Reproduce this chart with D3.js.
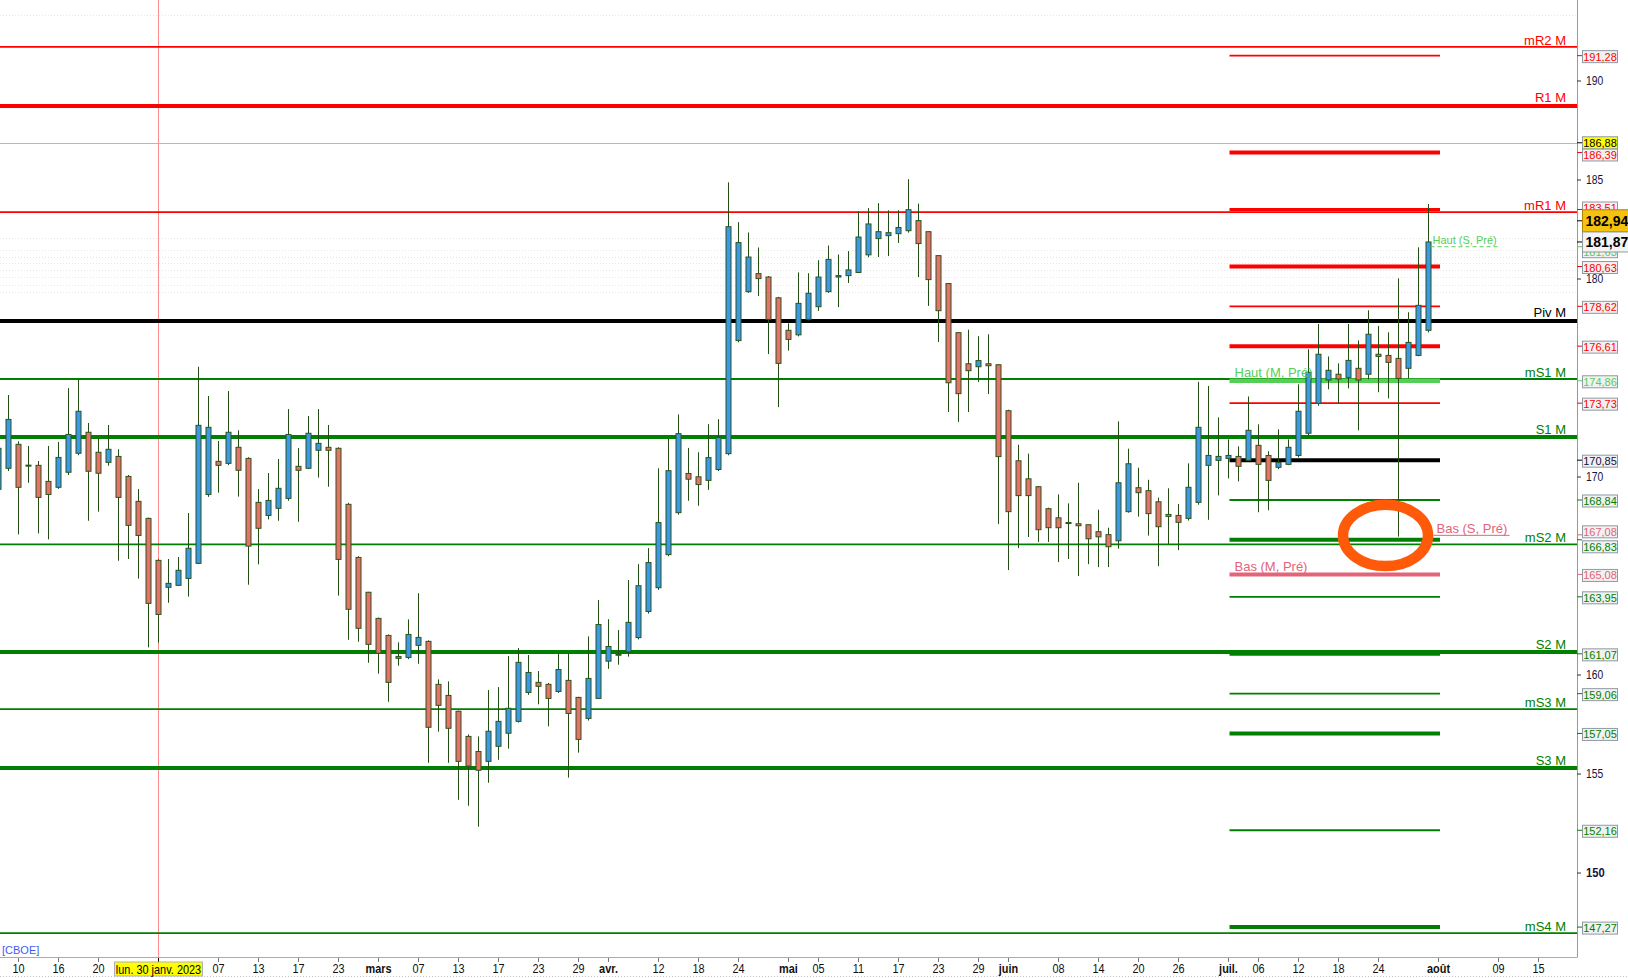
<!DOCTYPE html>
<html><head><meta charset="utf-8">
<script src="https://cdn.jsdelivr.net/npm/d3@7"></script>
<style>body{margin:0;background:#fff;} svg{display:block;font-family:"Liberation Sans",Arial,sans-serif;}</style>
</head><body><svg id="c" width="1628" height="978"></svg>
<script>
// ---------- DATA ----------
const monthDays = [
  ["01",[6,9,10,11,12,13,16,17,18,19,20,23,24,25,26,27,30,31]],
  ["02",[1,2,3,6,7,8,9,10,13,14,15,16,17,20,21,22,23,24,27,28]],
  ["03",[1,2,3,6,7,8,9,10,13,14,15,16,17,20,21,22,23,24,27,28,29,30,31]],
  ["04",[3,4,5,6,11,12,13,14,17,18,19,20,21,24,25,26,27,28]],
  ["05",[2,3,4,5,8,9,10,11,12,15,16,17,18,19,22,23,24,25,26,29,30,31]],
  ["06",[1,2,5,6,7,8,9,12,13,14,15,16,19,20,21,22,23,26,27,28,29,30]],
  ["07",[3,4,5,6,7,10,11,12,13,14,17,18,19,20,21,24,25,26,27,28,31]],
  ["08",[1,2,3,4,7,8,9,10,11,14,15,16,17,18]]
];
const tradingDays = monthDays.flatMap(([m, ds]) => ds.map(d => `2023-${m}-${String(d).padStart(2, "0")}`));

const open = [169.38,170.44,171.65,170.55,170.59,169.78,169.48,170.24,171.2,172.26,171.25,170.74,171.04,170.03,168.77,167.91,165.79,164.43,
 164.53,164.88,165.64,169.12,170.79,170.69,171.5,170.94,168.72,168.06,168.42,168.92,170.54,170.44,171.35,171.5,171.45,168.62,165.94,164.18,
 162.86,162.0,160.84,160.89,161.5,161.7,159.53,158.97,158.17,156.9,156.14,155.64,156.4,157.06,157.66,159.12,159.63,159.53,159.17,159.73,158.87,157.81,158.82,
 160.70,161.0,161.17,161.89,163.21,164.41,166.08,168.2,170.18,170.01,169.83,170.38,171.18,176.89,179.36,180.27,180.10,179.05,
 177.41,177.18,177.96,178.60,179.36,180.1,180.17,180.33,181.22,182.04,182.19,182.29,182.44,182.95,182.39,181.18,179.77,177.29,175.72,175.57,175.72,175.67,
 173.35,170.82,169.91,169.51,168.4,167.94,167.7,167.64,167.59,167.24,167.09,166.78,168.25,169.46,169.31,168.75,168.11,168.06,167.91,168.72,170.59,170.84,
 170.94,171.04,170.84,171.6,171.09,170.49,170.64,171.09,172.21,173.72,174.9,175.19,175.03,175.49,175.19,176.2,176.14,175.99,175.49,176.14,177.41];
const high = [172.2,174.14,171.8,171.57,170.81,171.57,171.77,174.49,174.93,172.73,171.95,172.63,171.4,170.1,169.39,167.95,165.85,165.86,
 165.96,168.18,175.57,174.09,171.82,174.34,172.36,171.0,169.39,170.20,170.91,173.43,171.46,173.08,173.43,172.63,171.5,168.7,166.0,164.2,
 162.9,162.05,161.65,162.81,164.13,161.75,159.78,159.68,158.2,157.0,156.9,159.24,159.39,160.96,161.36,161.01,160.2,159.6,161.09,161.09,158.9,161.95,163.79,
 162.82,162.27,164.80,165.6,166.41,170.44,171.93,173.16,171.47,171.25,172.67,172.92,184.88,182.87,182.35,181.59,180.15,179.1,
 177.76,180.33,180.29,180.95,181.69,181.24,181.41,183.42,183.58,183.83,183.47,183.47,185.04,183.81,182.4,181.2,179.8,177.3,177.44,177.11,177.21,175.7,
 173.4,171.63,171.18,169.55,168.45,169.12,168.67,169.71,167.6,168.35,167.44,172.81,171.43,170.47,169.86,168.96,169.43,168.64,170.69,174.81,174.60,173.01,
 171.9,171.55,174.07,172.66,171.3,172.41,171.9,174.68,176.45,177.73,176.09,175.74,177.73,176.9,178.42,177.63,177.31,180.03,178.32,181.6,183.79];
const low = [168.9,170.3,167.10,169.71,167.15,166.85,169.4,170.1,171.1,167.79,168.25,170.57,165.77,165.86,164.87,161.40,161.63,163.65,
 164.5,163.96,165.6,169.0,169.21,170.6,169.01,164.56,165.59,167.86,167.79,168.8,167.74,170.4,169.97,169.51,164.01,161.78,161.68,160.62,
 160.07,158.65,160.47,160.8,160.57,155.57,157.14,155.57,153.7,153.4,152.34,154.56,155.72,156.28,157.6,159.0,158.52,157.41,159.1,154.82,156.08,157.7,158.8,
 160.31,160.52,160.93,161.8,163.1,164.3,166.0,168.1,168.8,168.55,169.35,170.3,171.1,176.8,179.3,179.14,176.21,173.53,
 176.38,177.1,177.9,178.39,179.3,178.58,179.80,180.3,181.1,181.11,181.16,181.82,182.34,180.10,178.64,176.82,173.28,172.78,173.28,174.80,174.19,167.62,
 165.30,166.41,166.97,166.72,166.72,165.70,165.86,165.0,165.6,165.45,165.45,166.38,168.2,168.0,167.04,165.5,166.62,166.31,167.8,168.6,167.84,169.07,
 169.93,169.78,170.8,168.22,168.32,170.4,170.6,170.99,172.1,173.6,174.43,173.72,174.48,172.36,174.93,174.28,173.97,166.99,174.98,176.1,177.3];
const close = [171.45,172.91,169.48,170.6,168.97,169.12,170.99,172.15,173.32,170.29,170.19,171.40,168.97,167.56,167.05,163.62,163.06,164.63,
 165.29,166.40,172.61,172.51,170.59,172.26,170.34,166.51,167.41,168.82,169.43,172.15,170.34,172.21,171.70,171.35,165.84,163.32,162.36,161.55,
 161.1,159.63,160.94,162.05,161.9,157.36,158.47,157.31,155.64,155.4,155.19,157.16,157.66,158.32,160.64,160.13,159.43,158.82,160.28,158.06,156.75,159.83,162.55,
 161.44,161.05,162.66,164.51,165.68,167.70,170.32,172.19,169.89,169.62,170.98,171.99,182.64,181.84,181.11,180.02,177.96,175.74,
 176.95,178.77,179.28,180.10,180.99,180.17,180.46,182.12,182.78,182.39,182.34,182.6,183.5,181.79,179.97,178.40,174.76,174.21,175.37,175.88,175.62,171.03,
 168.25,169.06,169.06,167.34,167.44,167.44,167.67,167.54,166.88,166.98,166.48,169.71,170.67,169.21,168.15,167.49,168.01,167.71,169.48,172.51,171.09,171.04,
 171.09,170.54,172.36,170.64,169.83,170.74,171.50,173.32,175.29,176.2,175.39,174.95,175.89,174.9,177.21,176.09,175.79,174.98,176.80,178.67,181.87];

const monthlyNames  = ["mR2 M","R1 M","mR1 M","Piv M","mS1 M","S1 M","mS2 M","S2 M","mS3 M","S3 M","mS4 M"];
const monthlyValues = [191.72,188.74,183.38,177.88,174.95,172.02,166.60,161.16,158.28,155.30,146.97];

const weeklyNames  = ["mR4","R3","mR3","R2","mR2","R1","mR1","P","mS1","S1","mS2","S2","mS3","S3","mS4","S4"];
const weeklyValues = [191.28,186.39,183.51,180.63,178.62,176.61,173.73,170.85,168.84,166.83,163.95,161.07,159.06,157.05,152.16,147.27];

const prevNames  = ["Haut (M, Pré)","Bas (M, Pré)","Haut (S, Pré)","Bas (S, Pré)"];
const prevValues = [174.86,165.08,181.63,167.08];

const faintLevels = [193.33,182.07,181.46,181.11,180.81,180.45,180.10,179.70,179.34];
const yTicks = [190,185,180,170,160,155,150];
const lastPrice = 181.87, quotePrice = 182.94, crossPrice = 186.88;
const crossDate = "2023-01-30", crossDateLabel = "lun. 30 janv. 2023";

const xLabels = [["2023-01-10","10"],["2023-01-16","16"],["2023-01-20","20"],["2023-02-07","07"],["2023-02-13","13"],
 ["2023-02-17","17"],["2023-02-23","23"],["2023-03-01","mars"],["2023-03-07","07"],["2023-03-13","13"],["2023-03-17","17"],
 ["2023-03-23","23"],["2023-03-29","29"],["2023-04-03","avr."],["2023-04-12","12"],["2023-04-18","18"],["2023-04-24","24"],
 ["2023-05-02","mai"],["2023-05-05","05"],["2023-05-11","11"],["2023-05-17","17"],["2023-05-23","23"],["2023-05-29","29"],
 ["2023-06-01","juin"],["2023-06-08","08"],["2023-06-14","14"],["2023-06-20","20"],["2023-06-26","26"],["2023-07-03","juil."],
 ["2023-07-06","06"],["2023-07-12","12"],["2023-07-18","18"],["2023-07-24","24"],["2023-08-01","août"],["2023-08-09","09"],["2023-08-15","15"]];
const weeklyStart = "2023-07-03", weeklyEnd = "2023-08-01";
const markCenter = {date:"2023-07-24", dayOffset:0.7, value:167.05, rxDays:4.25, ryValue:1.55};

// ---------- LAYOUT ----------
const W = 1628, H = 978, plotR = 1577, plotB = 957;
const svg = d3.select("#c");
const idx = d => tradingDays.indexOf(d);
const x = d3.scaleLinear().domain([0, 1]).range([-1.5, 8.5]);
const y = d3.scaleLinear().domain([145.76, 194.09]).range([plotB, 0]);
const RED = "#ff0000", GREEN = "#008000", BLACK = "#000000", LGREEN = "#55cf55", PINK = "#e2637a";
const colorOf = n => /R\d/.test(n) ? RED : (/^(P|Piv)/.test(n) ? BLACK : GREEN);
const widthOf = n => n.startsWith("m") ? 1.8 : 4;
const fmt = v => d3.format(".2f")(v).replace(".", ",");

svg.append("defs").append("clipPath").attr("id","pc").append("rect").attr("x",0).attr("y",0).attr("width",plotR).attr("height",plotB);
const plot = svg.append("g").attr("clip-path","url(#pc)");

// faint dotted levels
plot.selectAll(".faint").data(faintLevels).join("line")
  .attr("x1",0).attr("x2",plotR).attr("y1",d=>Math.round(y(d))+0.5).attr("y2",d=>Math.round(y(d))+0.5)
  .attr("stroke","#e6e6e6").attr("stroke-dasharray","1,2");

// crosshair
plot.append("line").attr("x1",0).attr("x2",plotR).attr("y1",Math.round(y(crossPrice))+0.5).attr("y2",Math.round(y(crossPrice))+0.5)
  .attr("stroke","#ff9a9a").attr("stroke-width",1);
plot.append("line").attr("x1",x(idx(crossDate))).attr("x2",x(idx(crossDate))).attr("y1",0).attr("y2",plotB)
  .attr("stroke","#ff8c8c").attr("stroke-width",1);

// monthly full-width levels
plot.selectAll(".mlev").data(monthlyNames).join("line")
  .attr("x1",0).attr("x2",plotR).attr("y1",(d,i)=>y(monthlyValues[i])).attr("y2",(d,i)=>y(monthlyValues[i]))
  .attr("stroke",d=>colorOf(d)).attr("stroke-width",d=>widthOf(d));

// weekly short levels
const wx1 = x(idx(weeklyStart)) + 1, wx2 = x(idx(weeklyEnd)) + 1.5;
plot.selectAll(".wlev").data(weeklyNames).join("line")
  .attr("x1",wx1).attr("x2",wx2).attr("y1",(d,i)=>y(weeklyValues[i])).attr("y2",(d,i)=>y(weeklyValues[i]))
  .attr("stroke",d=>colorOf(d)).attr("stroke-width",d=>widthOf(d)===4?4:(d==="mR3"?3:1.8));
plot.append("line").attr("x1",wx1).attr("x2",wx2).attr("y1",y(prevValues[0])).attr("y2",y(prevValues[0]))
  .attr("stroke",LGREEN).attr("stroke-width",4.5);
plot.append("line").attr("x1",wx1).attr("x2",wx2).attr("y1",y(prevValues[1])).attr("y2",y(prevValues[1]))
  .attr("stroke",PINK).attr("stroke-width",4);

// candles
const candles = tradingDays.slice(0, close.length).map((d,i)=>({d,i,o:open[i],h:high[i],l:low[i],c:close[i]}));
const cg = plot.append("g");
cg.selectAll(".wick").data(candles).join("line")
  .attr("x1",d=>x(d.i)).attr("x2",d=>x(d.i)).attr("y1",d=>y(d.h)).attr("y2",d=>y(d.l))
  .attr("stroke","#234d12").attr("stroke-width",1);
cg.selectAll(".body").data(candles).join("rect")
  .attr("x",d=>x(d.i)-2.5).attr("width",5)
  .attr("y",d=>y(Math.max(d.o,d.c))).attr("height",d=>Math.max(1,Math.abs(y(d.o)-y(d.c))))
  .attr("fill",d=>d.c>=d.o?"#3a99ea":"#e8716b").attr("stroke","#2b5519").attr("stroke-width",1);

// hand-drawn annotation ring
const mcx = x(idx(markCenter.date)+markCenter.dayOffset), mcy = y(markCenter.value);
plot.append("ellipse").attr("cx",mcx).attr("cy",mcy)
  .attr("rx",x(markCenter.rxDays)-x(0)).attr("ry",y(markCenter.value-markCenter.ryValue)-mcy)
  .attr("fill","none").attr("stroke","#ff5a0a").attr("stroke-width",10.5);

// previous-period labels
const lastX = x(close.length-1);
plot.append("line").attr("x1",lastX+2).attr("x2",lastX+69).attr("y1",y(prevValues[2])).attr("y2",y(prevValues[2]))
  .attr("stroke",LGREEN).attr("stroke-width",1).attr("stroke-dasharray","4,3");
plot.append("text").attr("x",lastX+4).attr("y",y(prevValues[2])-3).attr("font-size",11).attr("fill",LGREEN).text(prevNames[2]);
plot.append("line").attr("x1",lastX+5).attr("x2",lastX+81).attr("y1",y(prevValues[3])+0.5).attr("y2",y(prevValues[3])+0.5)
  .attr("stroke",PINK).attr("stroke-width",1);
plot.append("text").attr("x",lastX+8).attr("y",y(prevValues[3])-2).attr("font-size",13).attr("fill",PINK).text(prevNames[3]);
plot.append("text").attr("x",wx1+5).attr("y",y(prevValues[0])-3.5).attr("font-size",13).attr("fill",LGREEN).text(prevNames[0]);
plot.append("text").attr("x",wx1+5).attr("y",y(prevValues[1])-3).attr("font-size",13).attr("fill",PINK).text(prevNames[1]);

// monthly labels
plot.selectAll(".mlab").data(monthlyNames).join("text")
  .attr("x",1566).attr("y",(d,i)=>y(monthlyValues[i]) - widthOf(d)/2 - 1.5)
  .attr("text-anchor","end").attr("font-size",13).attr("fill",d=>colorOf(d)).text(d=>d);

// ---------- AXES ----------
svg.append("line").attr("x1",0).attr("x2",plotR).attr("y1",plotB+0.5).attr("y2",plotB+0.5).attr("stroke","#a3aeb6");
svg.append("line").attr("x1",plotR+0.5).attr("x2",plotR+0.5).attr("y1",0).attr("y2",plotB+0.5).attr("stroke","#8d9ca8");
svg.append("line").attr("x1",0).attr("x2",W).attr("y1",976.5).attr("y2",976.5).attr("stroke","#c4c4c4").attr("stroke-dasharray","1,2");

svg.append("text").attr("x",2).attr("y",954).attr("font-size",11).attr("fill","#3f5cf0").text("[CBOE]");

// x labels
const xg = svg.append("g");
xLabels.forEach(([d,t])=>{
  const px = x(idx(d));
  xg.append("line").attr("x1",px).attr("x2",px).attr("y1",plotB+1).attr("y2",plotB+5).attr("stroke","#777");
  const bold = isNaN(+t);
  xg.append("text").attr("transform",`translate(${px},${973}) scale(0.84,1)`).attr("text-anchor","middle")
    .attr("font-size",13).attr("font-weight",bold?"bold":"normal").attr("fill","#111").text(t);
});
{ const px = x(idx(crossDate));
  xg.append("line").attr("x1",px).attr("x2",px).attr("y1",plotB+1).attr("y2",plotB+5).attr("stroke","#000");
  xg.append("rect").attr("x",px-44).attr("y",962).attr("width",88).attr("height",14).attr("fill","#ffff00").attr("stroke","#b0b0b0");
  xg.append("text").attr("transform",`translate(${px},${973.5}) scale(0.84,1)`).attr("text-anchor","middle")
    .attr("font-size",13).attr("fill","#000").text(crossDateLabel); }

// y plain ticks
const yg = svg.append("g");
yTicks.forEach(v=>{
  const py = y(v);
  yg.append("line").attr("x1",plotR).attr("x2",plotR+4).attr("y1",py).attr("y2",py).attr("stroke","#333");
  yg.append("text").attr("transform",`translate(${plotR+9},${py+4}) scale(0.86,1)`)
    .attr("font-size",v===150?13:12).attr("font-weight",v===150?"bold":"normal").attr("fill","#14143c").text(v);
});

// value boxes (shift = label offset in px to avoid collisions, as in the reference)
function box(v, color, opts={}){
  const py = y(v), by = py + (opts.shift||0) + 1;
  const h = opts.h||12, w = opts.w||35;
  yg.append("line").attr("x1",plotR).attr("x2",plotR+5).attr("y1",py).attr("y2",py).attr("stroke",opts.tick||color);
  yg.append("rect").attr("x",1582.5).attr("y",by-h/2).attr("width",w).attr("height",h)
    .attr("fill",opts.fill||"#f1f1f1").attr("stroke",opts.stroke||"#8e9aa3");
  yg.append("text").attr("x",1582.5+ (opts.tx||w/2)).attr("y",by+(opts.dy||4)).attr("text-anchor",opts.anchor||"middle")
    .attr("font-size",opts.fs||11).attr("font-weight",opts.fw||"normal").attr("fill",opts.text||color).text(fmt(v));
}
const shiftOf = {"mR3":-2.5, "S1":6, "R3":1.5};
box(prevValues[2], LGREEN, {shift:4});
box(prevValues[3], PINK, {shift:-4});
weeklyNames.forEach((n,i)=>box(weeklyValues[i], colorOf(n)===BLACK?"#101040":colorOf(n), {tick:colorOf(n), shift:shiftOf[n]||0}));
box(prevValues[0], LGREEN);
box(prevValues[1], PINK);
box(crossPrice, "#000", {fill:"#ffff00", stroke:"#8e9aa3", tick:"#000", shift:-1});
box(quotePrice, "#000", {fill:"#f5c20f", stroke:"#b08000", h:22, w:50, fs:14, fw:"bold", dy:5, tx:3, anchor:"start", shift:-1});
box(lastPrice, "#000", {fill:"#f4f4f4", stroke:"#8e9aa3", h:20, w:50, fs:14, fw:"bold", dy:5, tx:3, anchor:"start", shift:-1});
</script></body></html>
